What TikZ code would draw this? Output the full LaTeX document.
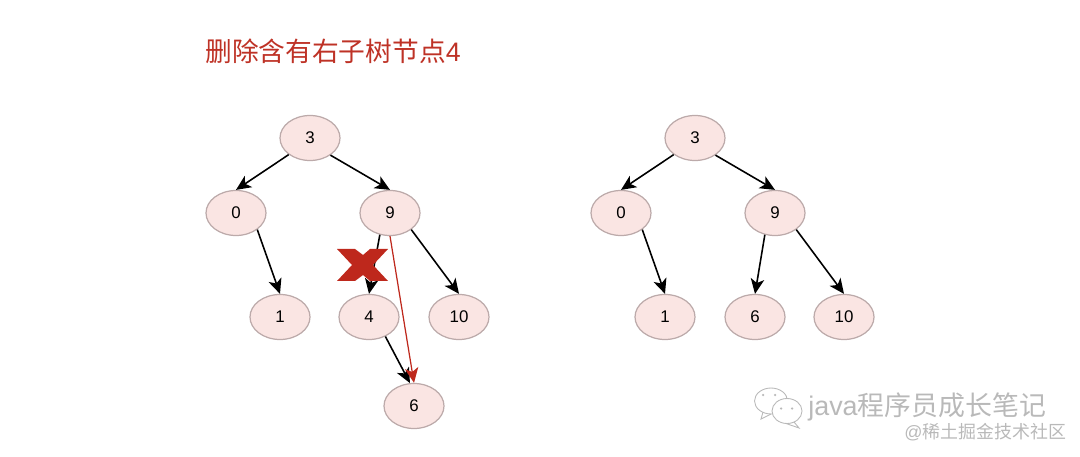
\documentclass[tikz,border=0pt]{standalone}
\usepackage{fontspec}
\usepackage{xcolor}
\setmainfont{Liberation Sans}
\newfontfamily\cjk{Noto Sans CJK SC}
\usetikzlibrary{arrows.meta,shapes.geometric}
\definecolor{titlered}{RGB}{190,50,38}
\definecolor{crossred}{RGB}{190,40,28}
\definecolor{nodepink}{RGB}{250,229,227}
\definecolor{nodeline}{RGB}{188,170,170}
\definecolor{markgray}{RGB}{185,185,185}

\begin{document}
\begin{tikzpicture}[
  treenode/.style={draw=nodeline, fill=nodepink, ellipse, line width=0.7pt, minimum width=1.2cm, minimum height=0.9cm, inner sep=0pt, font=\fontsize{9.6}{11}\selectfont},
  arrow/.style={-{Stealth[length=3mm,width=2.7mm,inset=0.8mm]}, line width=0.9pt},
  redarrow/.style={-{Stealth[length=3mm,width=2.7mm,inset=0.8mm]}, line width=0.7pt, draw=crossred},
  bubble/.style={draw=markgray, fill=white, ellipse, line width=0.5pt, inner sep=0pt},
  eye/.style={circle, fill=markgray, inner sep=0pt, minimum size=0.05cm}
]
\useasboundingbox (0,0) rectangle (21.6,9.12);
% title
\node[anchor=west, text=titlered, font=\fontsize{15.2}{18}\selectfont, inner sep=0pt] (title) at (4.1,8.1) {{\cjk 删除含有右子树节点}4};
% left tree
\node[treenode] (a3) at (6.2,6.36) {3};
\node[treenode] (a0) at (4.72,4.86) {0};
\node[treenode] (a9) at (7.8,4.86) {9};
\node[treenode] (a1) at (5.6,2.78) {1};
\node[treenode] (a4) at (7.38,2.78) {4};
\node[treenode] (a10) at (9.18,2.78) {10};
\node[treenode] (a6) at (8.28,1.0) {6};
\draw[arrow] (a3.-142) -- (a0.north);
\draw[arrow] (a3.-40) -- (a9.north);
\draw[arrow] (a0.-38) -- (a1.north);
\draw[arrow] (a9.-115) -- (a4.north);
\draw[arrow] (a9.-38) -- (a10.north);
\draw[arrow] (a4.-50) -- (a6.100);
\draw[redarrow] (a9.south) -- (a6.north);
% cross
\fill[crossred] (6.74,4.14) -- (7.10,4.14) -- (7.26,4.02) -- (7.40,4.14) -- (7.76,4.14) -- (7.46,3.82) -- (7.76,3.5) -- (7.40,3.5) -- (7.26,3.62) -- (7.10,3.5) -- (6.74,3.5) -- (7.04,3.82) -- cycle;
% right tree
\node[treenode] (b3) at (13.9,6.36) {3};
\node[treenode] (b0) at (12.42,4.86) {0};
\node[treenode] (b9) at (15.5,4.86) {9};
\node[treenode] (b1) at (13.3,2.78) {1};
\node[treenode] (b6) at (15.1,2.78) {6};
\node[treenode] (b10) at (16.88,2.78) {10};
\draw[arrow] (b3.-142) -- (b0.north);
\draw[arrow] (b3.-40) -- (b9.north);
\draw[arrow] (b0.-38) -- (b1.north);
\draw[arrow] (b9.-115) -- (b6.north);
\draw[arrow] (b9.-38) -- (b10.north);
% watermark
\node[bubble, minimum width=0.66cm, minimum height=0.52cm] (wa) at (15.42,1.1) {};
\draw[markgray, line width=0.5pt] (15.26,0.88) -- (15.22,0.74) -- (15.42,0.84);
\node[bubble, minimum width=0.6cm, minimum height=0.5cm] (wb) at (15.74,0.9) {};
\draw[markgray, line width=0.5pt] (15.88,0.68) -- (15.98,0.56) -- (15.72,0.65);
\node[eye] (we1) at (15.26,1.22) {};
\node[eye] (we2) at (15.5,1.22) {};
\node[eye] (we3) at (15.62,0.95) {};
\node[eye] (we4) at (15.84,0.95) {};
\node[anchor=west, text=markgray, font=\fontsize{15.3}{18}\selectfont, inner sep=0pt] (mark) at (16.16,0.99) {java{\cjk 程序员成长笔记}};
\node[anchor=west, text=markgray, font=\fontsize{10.2}{12}\selectfont, inner sep=0pt] (site) at (18.08,0.48) {@{\cjk 稀土掘金技术社区}};
\end{tikzpicture}
\end{document}
